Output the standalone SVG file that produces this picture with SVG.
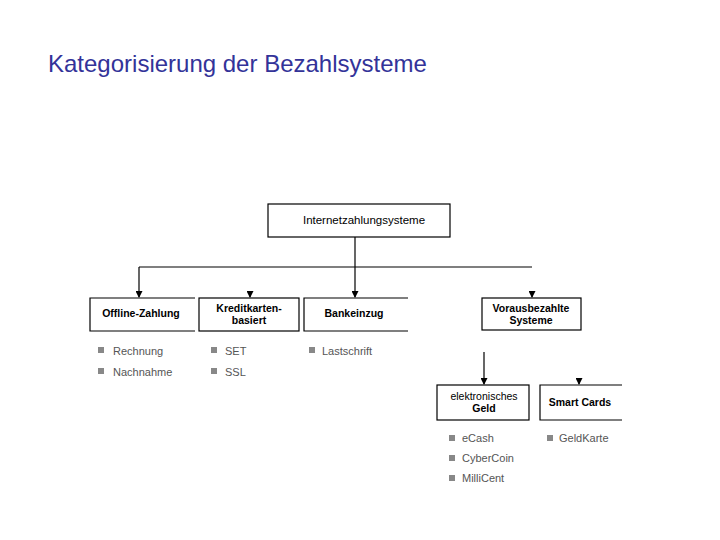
<svg xmlns="http://www.w3.org/2000/svg" width="720" height="540" viewBox="0 0 720 540">
<style>
.title{font-family:"Liberation Sans",Arial,sans-serif;font-size:24px;fill:#333399}
.lbl{font-family:"Liberation Sans",Arial,sans-serif;font-size:10.5px;font-weight:bold;fill:#000;text-anchor:middle}
.bt{font-family:"Liberation Sans",Arial,sans-serif;font-size:11px;fill:#555}
.box{fill:#fff;stroke:#000;stroke-width:1.2}
.edge{fill:none;stroke:#000;stroke-width:1.2}
.sq{fill:#888}
</style>
<defs>
<marker id="ah" markerWidth="7" markerHeight="7" refX="6" refY="3.5" orient="auto" markerUnits="userSpaceOnUse" viewBox="0 0 7 7">
<path d="M0,0 L7,3.5 L0,7 Z" fill="#000"/>
</marker>
</defs>
<rect width="720" height="540" fill="#fff"/>
<text class="title" x="48" y="72">Kategorisierung der Bezahlsysteme</text>

<g id="connectors">
<path class="edge" d="M355,237 V267"/>
<path class="edge" d="M139,267 H532"/>
<path class="edge" d="M139,267 V297" marker-end="url(#ah)"/>
<path class="edge" d="M355,267 V297" marker-end="url(#ah)"/>
<path class="edge" d="M250,291 V297" marker-end="url(#ah)"/>
<path class="edge" d="M532,291 V297" marker-end="url(#ah)"/>
<path class="edge" d="M484,352 V384" marker-end="url(#ah)"/>
<path class="edge" d="M579,378 V384" marker-end="url(#ah)"/>
</g>

<g id="internetzahlungsysteme">
<rect class="box" x="268" y="204" width="182" height="33"/>
<text class="lbl" x="364" y="224" style="font-size:11.5px;font-weight:normal">Internetzahlungsysteme</text>
</g>

<g id="offline">
<path class="edge" d="M195,298 H90 V331 H195"/>
<text class="lbl" x="141" y="317">Offline-Zahlung</text>
<rect class="sq" x="98" y="347" width="6" height="6"/>
<text class="bt" x="113" y="355">Rechnung</text>
<rect class="sq" x="98" y="368" width="6" height="6"/>
<text class="bt" x="113" y="376">Nachnahme</text>
</g>

<g id="kreditkarten">
<rect class="box" x="199" y="298" width="100" height="33"/>
<text class="lbl" x="249" y="312">Kreditkarten-</text>
<text class="lbl" x="249" y="324">basiert</text>
<rect class="sq" x="211" y="347" width="6" height="6"/>
<text class="bt" x="225" y="355">SET</text>
<rect class="sq" x="211" y="368" width="6" height="6"/>
<text class="bt" x="225" y="376">SSL</text>
</g>

<g id="bankeinzug">
<path class="edge" d="M408,298 H304 V331 H408"/>
<text class="lbl" x="354" y="317">Bankeinzug</text>
<rect class="sq" x="309" y="347" width="6" height="6"/>
<text class="bt" x="322" y="355">Lastschrift</text>
</g>

<g id="vorausbezahlt">
<rect class="box" x="482" y="298" width="99" height="32"/>
<text class="lbl" x="531" y="312">Vorausbezahlte</text>
<text class="lbl" x="531" y="324">Systeme</text>
</g>

<g id="egeld">
<rect class="box" x="437" y="385" width="92" height="35"/>
<text class="lbl" x="484" y="400" style="font-weight:normal">elektronisches</text>
<text class="lbl" x="484" y="412">Geld</text>
<rect class="sq" x="449" y="435" width="6" height="6"/>
<text class="bt" x="462" y="442">eCash</text>
<rect class="sq" x="449" y="455" width="6" height="6"/>
<text class="bt" x="462" y="462">CyberCoin</text>
<rect class="sq" x="449" y="475" width="6" height="6"/>
<text class="bt" x="462" y="482">MilliCent</text>
</g>

<g id="smartcards">
<path class="edge" d="M622,385 H540 V420 H622"/>
<text class="lbl" x="580" y="406">Smart Cards</text>
<rect class="sq" x="547" y="435" width="6" height="6"/>
<text class="bt" x="559" y="442">GeldKarte</text>
</g>
</svg>
